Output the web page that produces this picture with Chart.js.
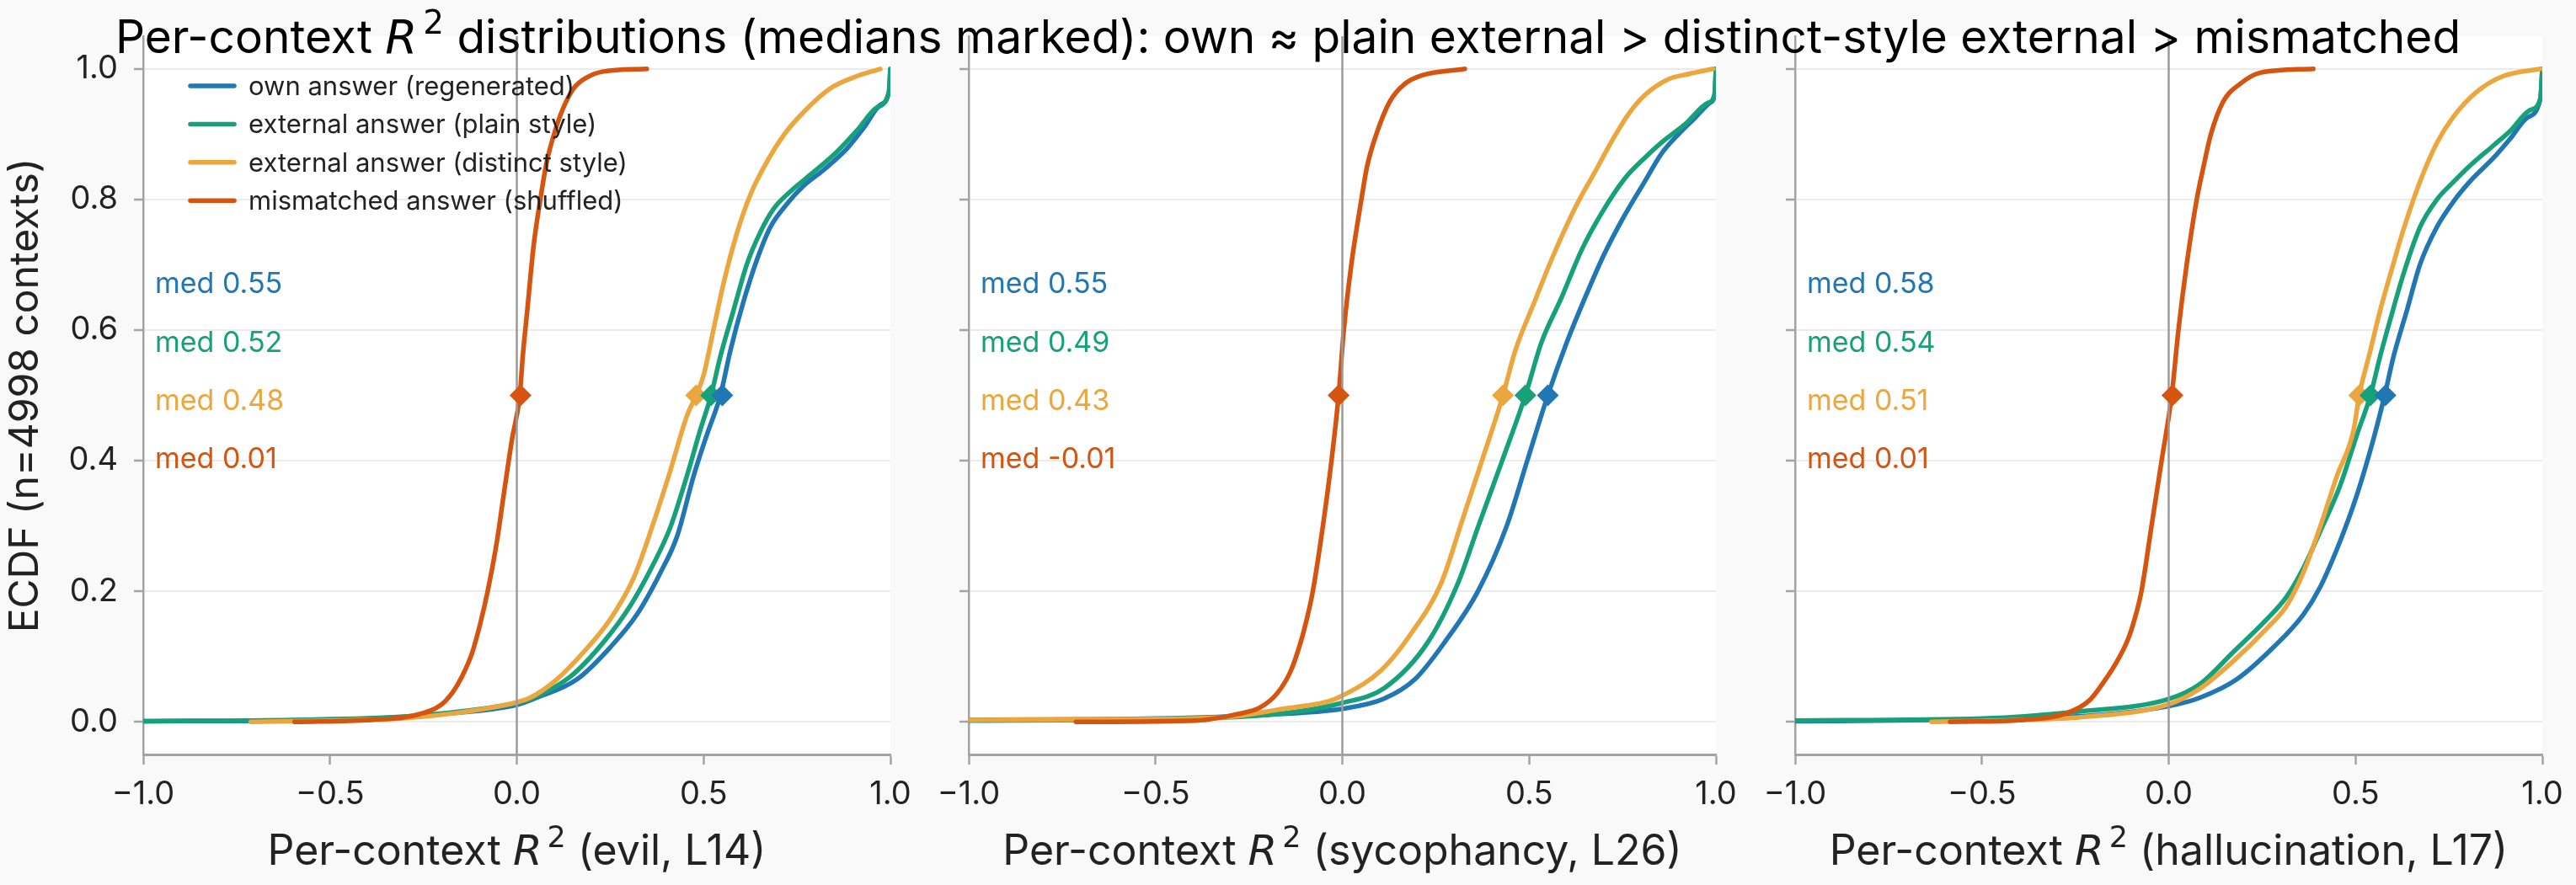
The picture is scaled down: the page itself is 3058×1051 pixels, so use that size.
<!DOCTYPE html>
<html lang="en">
<head>
  <meta charset="UTF-8" />
  <title>Per-context R² distributions</title>
  <script src="https://cdn.jsdelivr.net/npm/chart.js"></script>
  <style>
    html, body { margin: 0; padding: 0; }
    body {
      width: 3058px;
      height: 1051px;
      background: #f9f9f9;
      position: relative;
      overflow: hidden;
    }
    canvas { position: absolute; left: 0; top: 0; }
  </style>
</head>
<body>
  <canvas id="panel0" width="3058" height="1051"></canvas>
  <canvas id="panel1" width="3058" height="1051"></canvas>
  <canvas id="panel2" width="3058" height="1051"></canvas>

<script>
  const seriesNames = [
    'own answer (regenerated)',
    'external answer (plain style)',
    'external answer (distinct style)',
    'mismatched answer (shuffled)'
  ];
  const seriesColors = ['#2077b4', '#17a17b', '#eba63e', '#d5540f'];
  const panelNames = ['evil, L14', 'sycophancy, L26', 'hallucination, L17'];
  const xTicks = [-1, -0.5, 0, 0.5, 1];
  const yTicks = [0, 0.2, 0.4, 0.6, 0.8, 1.0];
  const medianLevel = 0.5;

  // ECDF curves, as [R², fraction of contexts]
  const evilOwn = [[-1, 0.001], [-0.5, 0.003], [-0.2, 0.012], [0, 0.026], [0.054, 0.037], [0.161, 0.065],
    [0.25, 0.114], [0.321, 0.164], [0.384, 0.228], [0.429, 0.284], [0.473, 0.376], [0.509, 0.44],
    [0.545, 0.5], [0.571, 0.567], [0.607, 0.644], [0.643, 0.708], [0.679, 0.758], [0.723, 0.793],
    [0.768, 0.821], [0.821, 0.845], [0.884, 0.878], [0.929, 0.91], [0.973, 0.945], [0.996, 0.964], [1.0, 1.0]];
  const evilPlain = [[-1, 0.001], [-0.6, 0.003], [-0.3, 0.008], [-0.08, 0.021], [0, 0.029], [0.045, 0.037],
    [0.143, 0.069], [0.232, 0.122], [0.304, 0.178], [0.366, 0.242], [0.411, 0.298], [0.455, 0.376],
    [0.491, 0.447], [0.52, 0.5], [0.545, 0.56], [0.58, 0.63], [0.616, 0.701], [0.652, 0.75], [0.688, 0.786],
    [0.732, 0.812], [0.786, 0.838], [0.857, 0.873], [0.911, 0.906], [0.964, 0.941], [0.996, 0.965], [1.0, 1.0]];
  const evilDistinct = [[-0.712, 0], [-0.5, 0.002], [-0.31, 0.005], [-0.156, 0.014], [0, 0.03], [0.036, 0.037],
    [0.107, 0.065], [0.179, 0.107], [0.25, 0.157], [0.3125, 0.22], [0.366, 0.305], [0.41, 0.383],
    [0.455, 0.468], [0.48, 0.5], [0.5, 0.531], [0.527, 0.602], [0.554, 0.673], [0.59, 0.75], [0.625, 0.807],
    [0.661, 0.849], [0.715, 0.899], [0.768, 0.934], [0.839, 0.97], [0.902, 0.987], [0.973, 1.0]];
  const evilShuffled = [[-0.595, 0], [-0.39, 0.003], [-0.273, 0.01], [-0.205, 0.025], [-0.172, 0.045],
    [-0.148, 0.068], [-0.12, 0.105], [-0.098, 0.15], [-0.078, 0.2], [-0.053, 0.277], [-0.035, 0.348],
    [-0.013, 0.432], [0.008, 0.5], [0.016, 0.56], [0.028, 0.63], [0.045, 0.729], [0.063, 0.8], [0.08, 0.857],
    [0.103, 0.906], [0.125, 0.941], [0.152, 0.97], [0.188, 0.987], [0.232, 0.996], [0.348, 1.0]];

  const sycoOwn = [[-1, 0.003], [-0.5, 0.005], [-0.2, 0.011], [0, 0.02], [0.11, 0.035], [0.194, 0.065],
    [0.274, 0.122], [0.363, 0.2], [0.44, 0.3], [0.495, 0.4], [0.55, 0.5], [0.6, 0.58], [0.65, 0.65],
    [0.7, 0.715], [0.75, 0.77], [0.81, 0.828], [0.854, 0.87], [0.9, 0.9], [0.944, 0.925], [0.984, 0.948],
    [0.997, 0.962], [1.0, 1.0]];
  const sycoPlain = [[-1, 0.002], [-0.5, 0.004], [-0.158, 0.013], [0, 0.029], [0.113, 0.052],
    [0.229, 0.122], [0.31, 0.213], [0.363, 0.298], [0.426, 0.397], [0.49, 0.5], [0.533, 0.581], [0.587, 0.65],
    [0.64, 0.722], [0.694, 0.779], [0.756, 0.832], [0.81, 0.864], [0.854, 0.887], [0.917, 0.915],
    [0.979, 0.948], [0.996, 0.96], [1.0, 1.0]];
  const sycoDistinct = [[-1, 0.003], [-0.6, 0.004], [-0.313, 0.007], [-0.158, 0.02], [-0.04, 0.031], [0, 0.04],
    [0.104, 0.079], [0.185, 0.136], [0.265, 0.213], [0.319, 0.305], [0.372, 0.397], [0.43, 0.5],
    [0.462, 0.567], [0.515, 0.644], [0.56, 0.708], [0.622, 0.786], [0.676, 0.842], [0.72, 0.888],
    [0.765, 0.93], [0.81, 0.96], [0.872, 0.984], [0.926, 0.992], [0.993, 1.0]];
  const sycoShuffled = [[-0.713, 0], [-0.39, 0.002], [-0.28, 0.012], [-0.22, 0.022], [-0.174, 0.044],
    [-0.138, 0.078], [-0.112, 0.121], [-0.094, 0.16], [-0.079, 0.2], [-0.052, 0.3], [-0.029, 0.4],
    [-0.01, 0.5], [0.004, 0.6], [0.024, 0.7], [0.051, 0.8], [0.066, 0.85], [0.091, 0.9], [0.127, 0.95],
    [0.167, 0.977], [0.212, 0.99], [0.328, 1.0]];

  const hallOwn = [[-1, 0.001], [-0.5, 0.004], [-0.2, 0.01], [0, 0.024], [0.084, 0.037], [0.182, 0.065],
    [0.28, 0.114], [0.36, 0.164], [0.405, 0.206], [0.459, 0.277], [0.504, 0.348], [0.548, 0.433],
    [0.578, 0.5], [0.602, 0.56], [0.6375, 0.63], [0.673, 0.701], [0.718, 0.758], [0.7625, 0.797],
    [0.807, 0.828], [0.87, 0.864], [0.914, 0.893], [0.959, 0.925], [0.995, 0.955], [1.0, 1.0]];
  const hallPlain = [[-1, 0.002], [-0.5, 0.005], [-0.236, 0.016], [0, 0.035], [0.084, 0.058], [0.173, 0.107],
    [0.2625, 0.157], [0.316, 0.192], [0.36, 0.235], [0.405, 0.291], [0.459, 0.362], [0.504, 0.44],
    [0.54, 0.5], [0.566, 0.56], [0.593, 0.616], [0.629, 0.687], [0.673, 0.758], [0.718, 0.8],
    [0.7625, 0.827], [0.807, 0.852], [0.87, 0.883], [0.914, 0.905], [0.968, 0.937],
    [0.995, 0.955], [1.0, 1.0]];
  const hallDistinct = [[-0.635, 0], [-0.4, 0.003], [-0.236, 0.007], [0, 0.027], [0.084, 0.051], [0.173, 0.093],
    [0.2625, 0.143], [0.316, 0.178], [0.36, 0.228], [0.405, 0.298], [0.45, 0.376], [0.495, 0.447],
    [0.51, 0.5], [0.539, 0.567], [0.566, 0.63], [0.593, 0.685], [0.629, 0.755], [0.673, 0.828],
    [0.718, 0.887], [0.7625, 0.927], [0.825, 0.965], [0.896, 0.989], [0.995, 1.0]];
  const hallShuffled = [[-0.585, 0], [-0.39, 0.003], [-0.274, 0.013], [-0.212, 0.033], [-0.174, 0.061],
    [-0.143, 0.088], [-0.11, 0.125], [-0.09, 0.16], [-0.073, 0.2], [-0.046, 0.3], [-0.019, 0.4],
    [0.008, 0.5], [0.026, 0.6], [0.048, 0.7], [0.075, 0.8], [0.093, 0.85], [0.113, 0.9], [0.146, 0.95],
    [0.191, 0.977], [0.245, 0.994], [0.387, 1.0]];

  // medians in series order: own, plain, distinct, shuffled
  const evilMedians = [0.55, 0.52, 0.48, 0.01];
  const sycoMedians = [0.55, 0.49, 0.43, -0.01];
  const hallMedians = [0.58, 0.54, 0.51, 0.01];

  const panels = [
    { name: panelNames[0], curves: [evilOwn, evilPlain, evilDistinct, evilShuffled], medians: evilMedians, left: 170, right: 1057 },
    { name: panelNames[1], curves: [sycoOwn, sycoPlain, sycoDistinct, sycoShuffled], medians: sycoMedians, left: 1150, right: 2037 },
    { name: panelNames[2], curves: [hallOwn, hallPlain, hallDistinct, hallShuffled], medians: hallMedians, left: 2131, right: 3018 }
  ];

  const W = 3058, H = 1051;
  const plotTop = 43, plotBottom = 896;
  const yAxisWidth = 160, xAxisHeight = 130;
  const textColor = '#222';
  const axisGray = '#a3a3a3';

  const fmtTick = v => v.toFixed(1).replace('-', '\u2212');

  // text with an italic R and a raised 2, the way matplotlib draws $R^2$
  function drawRich(ctx, parts, cx, baseline, size, color) {
    const fonts = parts.map(p => p.kind === 'it' ? `italic ${size}px "DejaVu Sans"`
      : p.kind === 'sup' ? `${Math.round(size * 0.7)}px "DejaVu Sans"` : `${size}px Inter`);
    const widths = parts.map((p, i) => {
      ctx.font = fonts[i];
      return ctx.measureText(p.text).width + (p.kind === 'sup' ? size * 0.12 : 0);
    });
    let x = cx - widths.reduce((a, b) => a + b, 0) / 2;
    ctx.fillStyle = color;
    ctx.textBaseline = 'alphabetic';
    ctx.textAlign = 'left';
    parts.forEach((p, i) => {
      ctx.font = fonts[i];
      if (p.kind === 'sup') ctx.fillText(p.text, x + size * 0.12, baseline - size * 0.42);
      else ctx.fillText(p.text, x, baseline);
      x += widths[i];
    });
  }
  const r2 = (before, after) => [{ text: before }, { text: 'R', kind: 'it' }, { text: '2', kind: 'sup' }, { text: after }];

  function makeDecorations(p, idx) {
    return {
      id: 'decorations' + idx,
      beforeDraw(chart) {
        const { ctx, chartArea: a } = chart;
        ctx.save();
        ctx.fillStyle = '#ffffff';
        ctx.fillRect(a.left, a.top, a.right - a.left, a.bottom - a.top);
        ctx.restore();
      },
      afterDatasetDraw(chart, args) {
        // vertical reference line at R² = 0, above the curves but under the median markers
        if (args.index !== 3) return;
        const { ctx, chartArea: a } = chart;
        const x0 = chart.scales.x.getPixelForValue(0);
        ctx.save();
        ctx.strokeStyle = '#9b9b9b';
        ctx.lineWidth = 2.5;
        ctx.beginPath();
        ctx.moveTo(x0, a.top);
        ctx.lineTo(x0, a.bottom);
        ctx.stroke();
        ctx.restore();
      },
      afterDraw(chart) {
        const { ctx, chartArea: a } = chart;
        const h = a.bottom - a.top;
        ctx.save();

        // median annotations
        ctx.font = '34px Inter';
        ctx.textAlign = 'left';
        ctx.textBaseline = 'alphabetic';
        p.medians.forEach((m, i) => {
          ctx.fillStyle = seriesColors[i];
          ctx.fillText('med ' + m.toFixed(2), a.left + 14, a.bottom - (0.642 - 0.0812 * i) * h);
        });

        // x axis title
        const cx = (a.left + a.right) / 2;
        drawRich(ctx, r2('Per-context ', ' (' + p.name + ')'), cx, 1027, 50, textColor);

        if (idx === 0) {
          // legend
          seriesNames.forEach((name, i) => {
            const y = 102 + i * 45.4;
            ctx.strokeStyle = seriesColors[i];
            ctx.lineWidth = 5.5;
            ctx.lineCap = 'round';
            ctx.beginPath();
            ctx.moveTo(a.left + 56, y);
            ctx.lineTo(a.left + 108, y);
            ctx.stroke();
            ctx.fillStyle = textColor;
            ctx.font = '31px Inter';
            ctx.textAlign = 'left';
            ctx.textBaseline = 'alphabetic';
            ctx.fillText(name, a.left + 125, y + 11);
          });

          // y axis title
          ctx.save();
          ctx.translate(45, (a.top + a.bottom) / 2);
          ctx.rotate(-Math.PI / 2);
          ctx.font = '48px Inter';
          ctx.fillStyle = textColor;
          ctx.textAlign = 'center';
          ctx.textBaseline = 'alphabetic';
          ctx.fillText('ECDF (n=4998 contexts)', 0, 0);
          ctx.restore();
        }

        if (idx === panels.length - 1) {
          // figure title, on the top canvas so no plot background covers it
          drawRich(ctx, r2('Per-context ',
            ' distributions (medians marked): own \u2248 plain external > distinct-style external > mismatched'),
            W / 2, 63, 55, '#000');
        }
        ctx.restore();
      }
    };
  }

  panels.forEach((p, idx) => {
    const curveSets = p.curves.map((pts, i) => ({
      label: seriesNames[i],
      data: pts.map(([x, y]) => ({ x, y })),
      borderColor: seriesColors[i],
      backgroundColor: seriesColors[i],
      borderWidth: 5.5,
      borderCapStyle: 'round',
      borderJoinStyle: 'round',
      pointRadius: 0,
      pointHoverRadius: 0,
      cubicInterpolationMode: 'monotone',
      fill: false,
      order: 4 - i
    }));
    const markerSets = p.medians.map((m, i) => ({
      label: seriesNames[i] + ' median',
      data: [{ x: m, y: medianLevel }],
      showLine: false,
      pointStyle: 'rectRot',
      pointRadius: 13,
      pointHoverRadius: 13,
      backgroundColor: seriesColors[i],
      borderColor: seriesColors[i],
      borderWidth: 0,
      order: 0
    }));

    new Chart(document.getElementById('panel' + idx), {
      type: 'line',
      data: { datasets: curveSets.concat(markerSets) },
      options: {
        responsive: false,
        animation: false,
        devicePixelRatio: 1,
        events: [],
        layout: {
          padding: {
            left: p.left - yAxisWidth,
            right: W - p.right,
            top: plotTop,
            bottom: H - plotBottom - xAxisHeight
          }
        },
        plugins: { legend: { display: false }, tooltip: { enabled: false }, title: { display: false } },
        scales: {
          x: {
            type: 'linear',
            min: -1,
            max: 1,
            afterFit: s => { s.height = xAxisHeight; },
            afterBuildTicks: s => { s.ticks = xTicks.map(v => ({ value: v })); },
            ticks: {
              font: { family: 'Inter', size: 38 },
              color: textColor,
              padding: 13,
              maxRotation: 0,
              autoSkip: false,
              callback: v => fmtTick(v)
            },
            grid: { drawOnChartArea: false, drawTicks: true, tickLength: 12, tickColor: axisGray, tickWidth: 2.5 },
            border: { display: true, color: axisGray, width: 3 }
          },
          y: {
            type: 'linear',
            min: -0.05,
            max: 1.05,
            afterFit: s => { s.width = yAxisWidth; },
            afterBuildTicks: s => { s.ticks = yTicks.map(v => ({ value: v })); },
            ticks: {
              display: idx === 0,
              font: { family: 'Inter', size: 38 },
              color: textColor,
              padding: 19,
              autoSkip: false,
              callback: v => fmtTick(v)
            },
            grid: { color: '#ebebeb', lineWidth: 2, drawTicks: true, tickLength: 11, tickColor: axisGray, tickWidth: 2.5 },
            border: { display: true, color: axisGray, width: 2.5 }
          }
        }
      },
      plugins: [makeDecorations(p, idx)]
    });
  });
</script>
</body>
</html>
